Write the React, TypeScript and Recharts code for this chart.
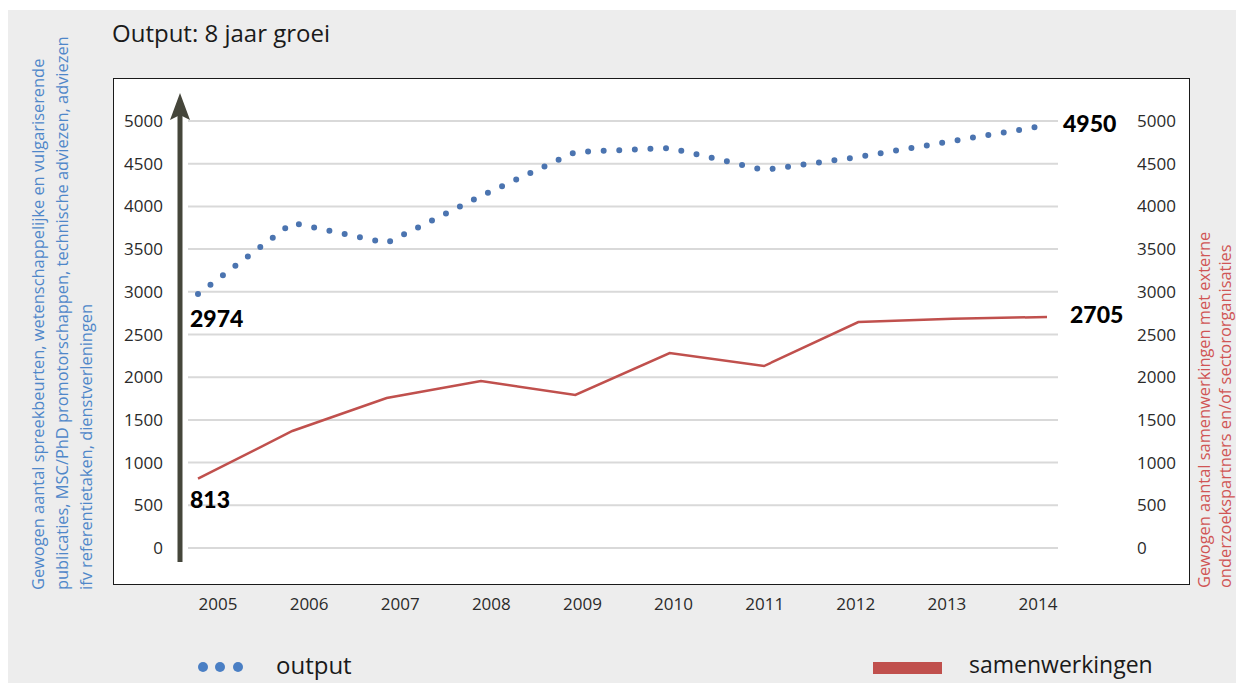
import { LineChart, Line, XAxis, YAxis, CartesianGrid, LabelList } from 'recharts';

const years = ['2005', '2006', '2007', '2008', '2009', '2010', '2011', '2012', '2013', '2014'];
const output = [2974, 3806, 3571, 4122, 4637, 4684, 4426, 4578, 4766, 4950];
const samenwerkingen = [813, 1370, 1756, 1955, 1792, 2283, 2131, 2646, 2685, 2705];
const yTicks = [0, 500, 1000, 1500, 2000, 2500, 3000, 3500, 4000, 4500, 5000];

const data = years.map((year, i) => ({
  year,
  output: output[i],
  samenwerkingen: samenwerkingen[i],
}));

const W = 1228;
const H = 673;
const BLUE = '#4b74b0';
const RED = '#c0504d';
const FONT = '"Open Sans", sans-serif';
const tickStyle = { fontFamily: FONT, fontSize: 17, fill: '#2a2a2a' };

// bold value labels on the first and last point only
function endLabels(first: [number, number], last: [number, number]) {
  return (props: any) => {
    const x = props.x ?? props.viewBox?.x;
    const y = props.y ?? props.viewBox?.y;
    const off = props.index === 0 ? first : props.index === years.length - 1 ? last : null;
    if (!off || x == null || y == null) return null;
    return (
      <text
        x={x + off[0]}
        y={y + off[1]}
        dominantBaseline="central"
        textAnchor="start"
        style={{ fontFamily: 'Lato, sans-serif', fontWeight: 900, fontSize: 23, fill: '#000' }}
      >
        {props.value}
      </text>
    );
  };
}

export default function App() {
  return (
    <div
      style={{
        position: 'fixed',
        left: 8,
        top: 10,
        width: W,
        height: H,
        background: '#ededed',
        overflow: 'hidden',
      }}
    >
      <div
        style={{
          position: 'absolute',
          left: 105,
          top: 68,
          width: 1077,
          height: 507,
          background: '#fff',
          border: '1.5px solid #1a1a1a',
          boxSizing: 'border-box',
        }}
      />
      <div style={{ position: 'absolute', left: 0, top: 0 }}>
        <LineChart
          width={W}
          height={H}
          data={data}
          margin={{ top: 111, left: 120, right: 118, bottom: 75 }}
        >
          <CartesianGrid vertical={false} stroke="#d9d9d9" strokeWidth={2} />
          <XAxis dataKey="year" hide height={0} padding={{ left: 10, right: 11 }} />
          <XAxis
            xAxisId="lbl"
            dataKey="year"
            padding={{ left: 30, right: 20 }}
            axisLine={false}
            tickLine={false}
            tickSize={0}
            tickMargin={50}
            height={60}
            interval={0}
            tick={tickStyle}
          />
          <YAxis
            domain={[0, 5000]}
            ticks={yTicks}
            width={60}
            axisLine={false}
            tickLine={false}
            tickSize={0}
            tickMargin={25}
            tick={tickStyle}
          />
          <YAxis
            yAxisId="right"
            orientation="right"
            domain={[0, 5000]}
            ticks={yTicks}
            width={60}
            axisLine={false}
            tickLine={false}
            tickSize={0}
            tickMargin={79}
            tick={{ ...tickStyle, textAnchor: 'start' }}
          />
          <Line
            dataKey="samenwerkingen"
            yAxisId="right"
            type="linear"
            stroke={RED}
            strokeWidth={2.5}
            dot={false}
            activeDot={false}
            isAnimationActive={false}
          >
            <LabelList dataKey="samenwerkingen" content={endLabels([-8, 20], [23, -3])} />
          </Line>
          <Line
            dataKey="output"
            type="linear"
            stroke={BLUE}
            strokeWidth={6}
            strokeLinecap="round"
            strokeDasharray="0 15.6"
            dot={false}
            activeDot={false}
            isAnimationActive={false}
          >
            <LabelList dataKey="output" content={endLabels([-8, 24], [16, -2])} />
          </Line>
        </LineChart>
      </div>
      <svg
        width={W}
        height={H}
        style={{ position: 'absolute', left: 0, top: 0, pointerEvents: 'none' }}
      >
        <text x={104} y={32} style={{ fontFamily: FONT, fontSize: 24, fill: '#1a1a1a' }}>
          Output: 8 jaar groei
        </text>

        {/* growth arrow next to the left axis */}
        <line x1={172} y1={552} x2={172} y2={104} stroke="#45463b" strokeWidth={5} />
        <path d="M162,110 L172,83 L182,110 L172,105 Z" fill="#45463b" />

        {/* left axis title, three lines */}
        <g style={{ fontFamily: FONT, fontSize: 16.4, fill: '#4f87c9' }}>
          <text transform="translate(29,580) rotate(-90)" dominantBaseline="central">
            Gewogen aantal spreekbeurten, wetenschappelijke en vulgariserende
          </text>
          <text transform="translate(53,580) rotate(-90)" dominantBaseline="central">
            publicaties, MSC/PhD promotorschappen, technische adviezen, adviezen
          </text>
          <text transform="translate(77,580) rotate(-90)" dominantBaseline="central">
            ifv referentietaken, dienstverleningen
          </text>
        </g>

        {/* right axis title, two lines */}
        <g style={{ fontFamily: FONT, fontSize: 16.4, fill: '#d05555' }}>
          <text transform="translate(1195,578) rotate(-90)" dominantBaseline="central">
            Gewogen aantal samenwerkingen met externe
          </text>
          <text transform="translate(1216,578) rotate(-90)" dominantBaseline="central">
            onderzoekspartners en/of sectororganisaties
          </text>
        </g>

        {/* legend */}
        <circle cx={195} cy={657} r={5} fill="#4a7fc4" />
        <circle cx={212} cy={657} r={5} fill="#4a7fc4" />
        <circle cx={230} cy={657} r={5} fill="#4a7fc4" />
        <text x={268} y={664} style={{ fontFamily: FONT, fontSize: 24, fill: '#1a1a1a' }}>
          output
        </text>
        <rect x={865} y={652} width={69} height={12} fill={RED} />
        <text x={961} y={663} style={{ fontFamily: FONT, fontSize: 23, fill: '#1a1a1a' }}>
          samenwerkingen
        </text>
      </svg>
    </div>
  );
}
